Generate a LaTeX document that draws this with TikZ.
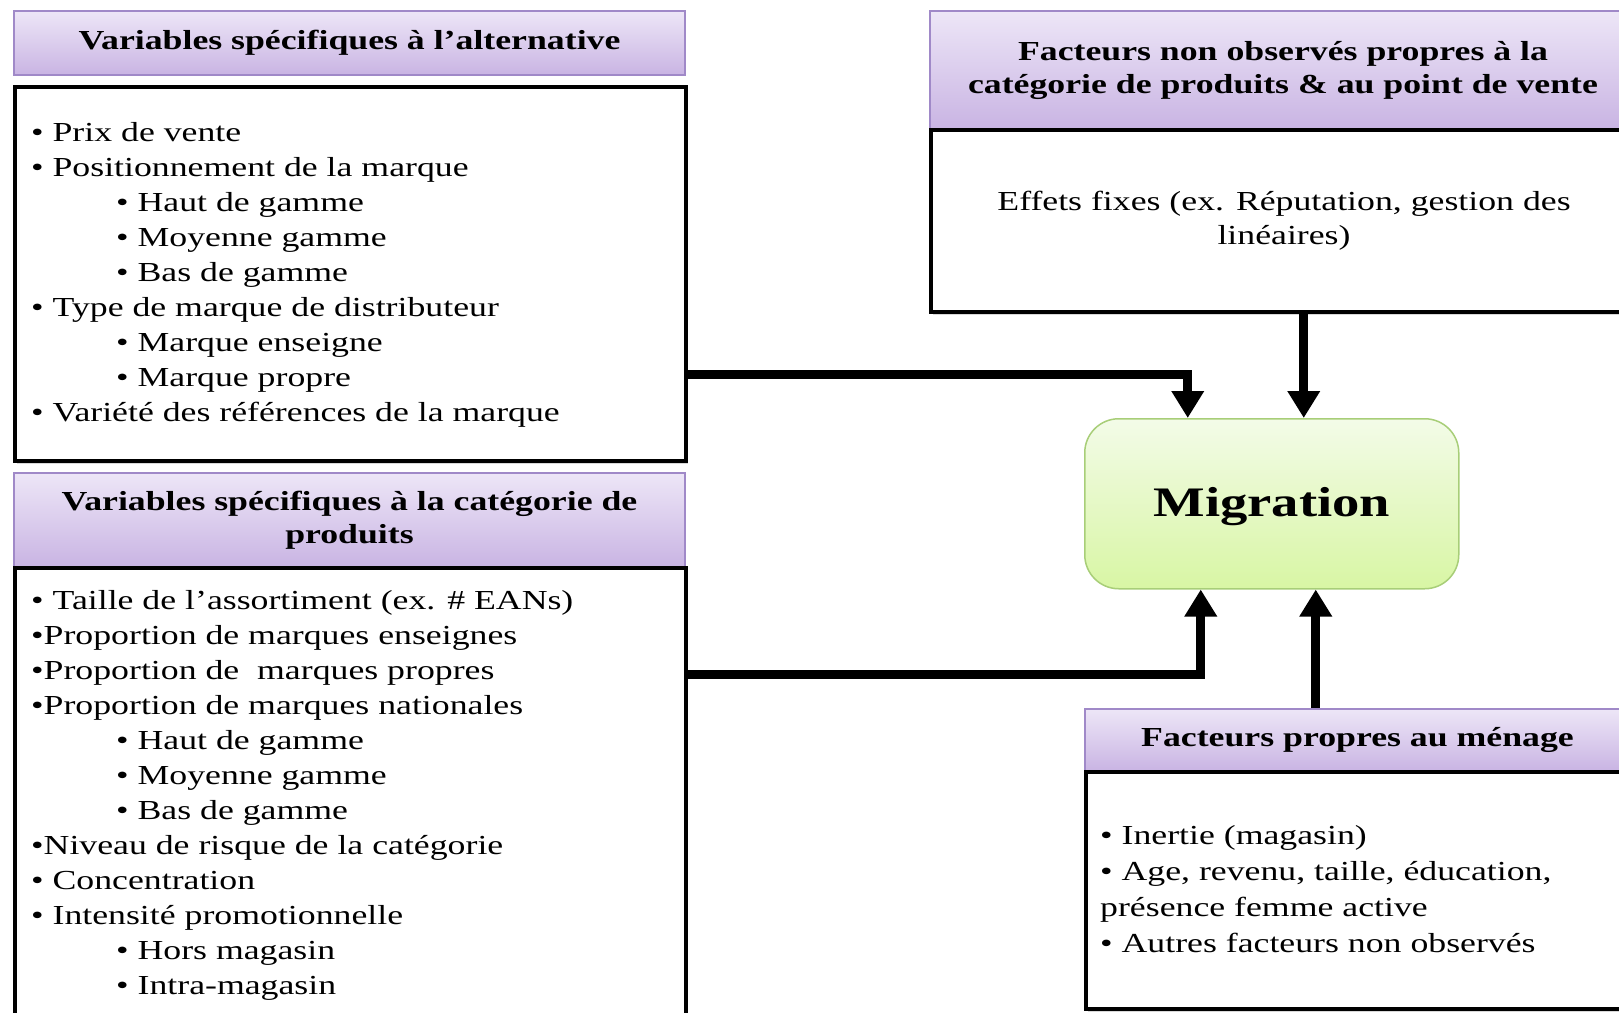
\documentclass[tikz,border=0pt]{standalone}
\usepackage{fontspec}
\setmainfont{Liberation Serif}[FakeStretch=1.3]
\usepackage{tikz}
\usetikzlibrary{arrows.meta,positioning,shadows}

\definecolor{hdrtop}{HTML}{EDE6F7}
\definecolor{hdrbot}{HTML}{C9B4E3}
\definecolor{hdrline}{HTML}{A089C8}
\definecolor{migtop}{HTML}{F3FBE8}
\definecolor{migbot}{HTML}{D8F6A4}
\definecolor{migline}{HTML}{A8CE78}

\newcommand{\subitm}{\hspace*{85pt}}

\tikzset{
  hdr/.style={draw=hdrline, line width=2pt, top color=hdrtop, bottom color=hdrbot,
    anchor=north west, align=center, inner sep=0pt,
    font=\fontsize{27.5}{33}\selectfont\bfseries},
  bodybox/.style={draw=black, line width=4pt, fill=white, anchor=north west,
    align=center, inner sep=0pt, font=\fontsize{27.5}{34}\selectfont,
    drop shadow={shadow xshift=2pt, shadow yshift=-3pt, opacity=.3}},
  itemlist/.style={anchor=north west, align=left, inner sep=0pt,
    font=\fontsize{27.5}{35}\selectfont},
  migr/.style={draw=migline, line width=1.5pt, top color=migtop, bottom color=migbot,
    rounded corners=34pt, anchor=north west, inner sep=0pt, text depth=4pt,
    font=\fontsize{42}{50}\selectfont\bfseries},
  flow/.style={line width=9pt, -{Triangle[width=31pt,length=27pt]}}
}

\begin{document}
\begin{tikzpicture}[x=1pt, y=-1pt]
\useasboundingbox (0,0) rectangle (1619,1012);
\fill[white] (0,0) rectangle (1619,1012);

% left column
\node[hdr, minimum width=671, minimum height=64] (hdrA) at (13,10) {Variables spécifiques à l’alternative};
\node[bodybox, minimum width=671, minimum height=374] (bodyA) at (13,85) {};
\node[itemlist] (listA) at (31,122) {%
• Prix de vente\\
• Positionnement de la marque\\
\subitm • Haut de gamme\\
\subitm • Moyenne gamme\\
\subitm • Bas de gamme\\
• Type de marque de distributeur\\
\subitm • Marque enseigne\\
\subitm • Marque propre\\
• Variété des références de la marque};

\node[hdr, minimum width=671, minimum height=94] (hdrB) at (13,472) {Variables spécifiques à la catégorie de\\ produits};
\node[bodybox, minimum width=671, minimum height=460] (bodyB) at (13,566) {};
\node[itemlist] (listB) at (31,590) {%
• Taille de l’assortiment (ex. \# EANs)\\
•Proportion de marques enseignes\\
•Proportion de \ marques propres\\
•Proportion de marques nationales\\
\subitm • Haut de gamme\\
\subitm • Moyenne gamme\\
\subitm • Bas de gamme\\
•Niveau de risque de la catégorie\\
• Concentration\\
• Intensité promotionnelle\\
\subitm • Hors magasin\\
\subitm • Intra-magasin};

% right column
\node[hdr, minimum width=706, minimum height=118] (hdrC) at (929,10) {Facteurs non observés propres à la\\ catégorie de produits \& au point de vente};
\node[bodybox, minimum width=706, minimum height=182] (bodyC) at (929,128) {Effets fixes (ex. Réputation, gestion des\\ linéaires)};

\node[migr, minimum width=374, minimum height=170] (migr) at (1084,418) {Migration};

\node[hdr, minimum width=545, minimum height=62] (hdrD) at (1084,708) {Facteurs propres au ménage};
\node[bodybox, minimum width=545, minimum height=237] (bodyD) at (1084,770) {};
\node[itemlist, font=\fontsize{27.5}{36}\selectfont] (listD) at (1100,825) {%
• Inertie (magasin)\\
• Age, revenu, taille, éducation,\\
présence femme active\\
• Autres facteurs non observés};

% connectors
\draw[flow] (bodyA.east |- 0,374) -| ([xshift=-84pt]migr.north);
\draw[flow] ([xshift=32pt]migr.north |- bodyC.south) -- ([xshift=32pt]migr.north);
\draw[flow] (bodyB.east |- 0,674) -| ([xshift=-71pt]migr.south);
\draw[flow] ([xshift=44pt]migr.south |- hdrD.north) -- ([xshift=44pt]migr.south);
\end{tikzpicture}
\end{document}
